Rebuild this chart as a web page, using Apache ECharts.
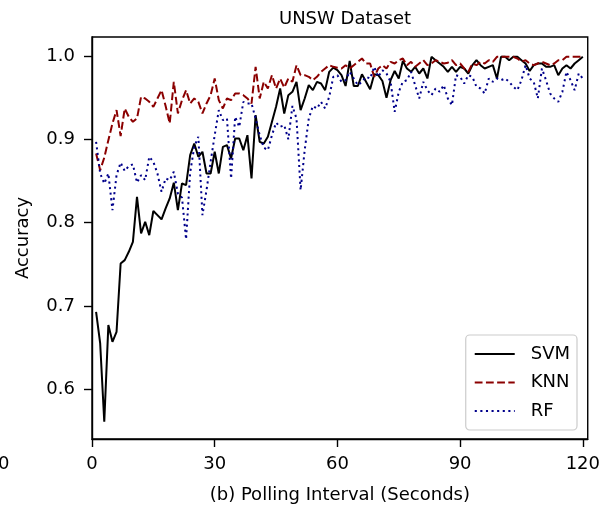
<!DOCTYPE html>
<html>
<head>
<meta charset="utf-8">
<script src="https://cdn.jsdelivr.net/npm/echarts@6/dist/echarts.min.js"></script>
<style>
html,body{margin:0;padding:0;background:#fff;}
#c{width:603px;height:509px;}
</style>
</head>
<body>
<div id="c"></div>
<script>
const intervals = [1,2,3,4,5,6,7,8,9,10,11,12,13,14,15,16,17,18,19,20,21,22,23,24,25,26,27,28,29,30,31,32,33,34,35,36,37,38,39,40,41,42,43,44,45,46,47,48,49,50,51,52,53,54,55,56,57,58,59,60,61,62,63,64,65,66,67,68,69,70,71,72,73,74,75,76,77,78,79,80,81,82,83,84,85,86,87,88,89,90,91,92,93,94,95,96,97,98,99,100,101,102,103,104,105,106,107,108,109,110,111,112,113,114,115,116,117,118,119,120];

const svm = [0.693,0.655,0.561,0.677,0.657,0.669,0.751,0.755,0.765,0.777,
0.831,0.787,0.801,0.785,0.814,0.809,0.804,0.817,0.829,0.848,
0.815,0.847,0.845,0.881,0.895,0.879,0.885,0.859,0.859,0.885,
0.859,0.891,0.893,0.877,0.901,0.901,0.887,0.905,0.853,0.929,
0.897,0.895,0.903,0.921,0.939,0.961,0.931,0.953,0.957,0.969,
0.935,0.949,0.965,0.959,0.969,0.967,0.959,0.981,0.986,0.983,
0.977,0.964,0.994,0.964,0.964,0.978,0.969,0.960,0.978,0.977,
0.970,0.950,0.971,0.982,0.973,0.994,0.985,0.981,0.987,0.979,
0.985,0.973,0.999,0.995,0.991,0.987,0.981,0.987,0.981,0.987,
0.985,0.979,0.989,0.995,0.989,0.985,0.987,0.989,0.973,0.999,
0.999,0.995,0.999,0.999,0.995,0.991,0.982,0.989,0.991,0.991,
0.987,0.987,0.989,0.977,0.985,0.989,0.985,0.991,0.995,0.999];

const knn = [0.883,0.863,0.878,0.899,0.919,0.935,0.904,0.937,0.927,0.921,
0.925,0.951,0.949,0.945,0.939,0.949,0.959,0.940,0.919,0.969,
0.931,0.947,0.959,0.943,0.949,0.945,0.931,0.943,0.953,0.973,
0.947,0.937,0.949,0.947,0.955,0.955,0.953,0.949,0.943,0.987,
0.949,0.969,0.961,0.977,0.961,0.973,0.962,0.973,0.969,0.989,
0.977,0.977,0.975,0.971,0.975,0.981,0.985,0.989,0.987,0.986,
0.985,0.989,0.985,0.989,0.993,0.997,0.991,0.991,0.975,0.985,
0.989,0.985,0.993,0.991,0.995,0.997,0.989,0.993,0.987,0.991,
0.995,0.989,0.991,0.995,0.993,0.991,0.992,0.995,0.989,0.991,
0.985,0.981,0.991,0.989,0.993,0.991,0.995,0.993,0.999,0.999,
0.999,0.999,0.999,0.997,0.993,0.995,0.991,0.989,0.991,0.993,
0.991,0.989,0.991,0.995,0.995,0.999,0.999,0.999,0.999,0.999];

const rf = [0.897,0.859,0.847,0.859,0.815,0.857,0.872,0.862,0.868,0.870,
0.848,0.857,0.851,0.879,0.873,0.859,0.837,0.853,0.851,0.861,
0.835,0.830,0.780,0.860,0.891,0.903,0.809,0.839,0.873,0.905,
0.935,0.923,0.925,0.853,0.927,0.915,0.945,0.943,0.943,0.925,
0.905,0.890,0.887,0.905,0.920,0.915,0.917,0.900,0.940,0.925,
0.839,0.887,0.925,0.940,0.937,0.945,0.937,0.951,0.975,0.977,
0.969,0.971,0.981,0.973,0.965,0.969,0.975,0.973,0.987,0.975,
0.983,0.979,0.969,0.933,0.957,0.969,0.971,0.981,0.965,0.949,
0.969,0.959,0.953,0.961,0.957,0.965,0.949,0.941,0.977,0.975,
0.967,0.977,0.975,0.963,0.961,0.955,0.973,0.969,0.973,0.971,
0.973,0.969,0.963,0.959,0.971,0.989,0.973,0.969,0.949,0.985,
0.971,0.955,0.949,0.945,0.957,0.981,0.971,0.959,0.979,0.973];

const xTicks = [0, 30, 60, 90, 120];
const yTicks = [0.6, 0.7, 0.8, 0.9, 1.0];
const seriesNames = ['SVM', 'KNN', 'RF'];

const pairs = arr => intervals.map((x, i) => [x, arr[i]]);
const FONT = 'DejaVu Sans';

const chart = echarts.init(document.getElementById('c'), null, {renderer: 'canvas'});
chart.setOption({
  animation: false,
  backgroundColor: '#fff',
  title: {
    text: 'UNSW Dataset',
    left: 340, top: 5, textAlign: 'center',
    textStyle: {fontFamily: FONT, fontSize: 18, fontWeight: 'normal', color: '#000'}
  },
  grid: {left: 92, right: 15, top: 37, bottom: 70, show: true, borderColor: '#000', borderWidth: 1.4, backgroundColor: 'transparent'},
  legend: {
    orient: 'vertical',
    right: 26, bottom: 79,
    data: seriesNames,
    itemWidth: 40, itemHeight: 14, itemGap: 10.5,
    padding: [10, 7, 10, 8],
    borderColor: '#cccccc', borderWidth: 1.2, borderRadius: 4,
    backgroundColor: 'rgba(255,255,255,0.85)',
    itemStyle: {opacity: 0},
    textStyle: {fontFamily: FONT, fontSize: 18, lineHeight: 18, color: '#000', padding: [0, 0, 0, 11]}
  },
  xAxis: {
    type: 'value', min: 0, max: 121.2,
    name: '(b) Polling Interval (Seconds)', nameLocation: 'middle', nameGap: 47,
    nameTextStyle: {fontFamily: FONT, fontSize: 18, color: '#000'},
    axisLine: {show: true, onZero: false, lineStyle: {color: '#000', width: 1.4}},
    axisTick: {show: true, length: 8, customValues: xTicks, lineStyle: {color: '#000', width: 1.4}},
    axisLabel: {customValues: xTicks, fontFamily: FONT, fontSize: 18, color: '#000', margin: 16},
    splitLine: {show: false}
  },
  yAxis: {
    type: 'value', min: 0.5403, max: 1.0228,
    name: 'Accuracy', nameLocation: 'middle', nameGap: 60,
    nameTextStyle: {fontFamily: FONT, fontSize: 18, color: '#000'},
    axisLine: {show: true, onZero: false, lineStyle: {color: '#000', width: 1.4}},
    axisTick: {show: true, length: 8, customValues: yTicks, lineStyle: {color: '#000', width: 1.4}},
    axisLabel: {customValues: yTicks, fontFamily: FONT, fontSize: 18, color: '#000', margin: 17,
      formatter: v => v.toFixed(1)},
    splitLine: {show: false}
  },
  graphic: [{
    type: 'text', x: 9.5, y: 455,
    style: {text: '120', fontFamily: FONT, fontSize: 18, fill: '#000', textAlign: 'right', textVerticalAlign: 'top'}
  }],
  series: [
    {name: 'SVM', type: 'line', data: pairs(svm), showSymbol: false, symbol: 'none',
      lineStyle: {color: '#000', width: 2, type: 'solid'}, itemStyle: {color: '#000'}},
    {name: 'KNN', type: 'line', data: pairs(knn), showSymbol: false, symbol: 'none',
      lineStyle: {color: '#8b0000', width: 2, type: [7.8, 3.4]}, itemStyle: {color: '#8b0000'}},
    {name: 'RF', type: 'line', data: pairs(rf), showSymbol: false, symbol: 'none',
      lineStyle: {color: '#00008b', width: 2, type: [2.1, 3.5]}, itemStyle: {color: '#00008b'}}
  ]
});
</script>
</body>
</html>
